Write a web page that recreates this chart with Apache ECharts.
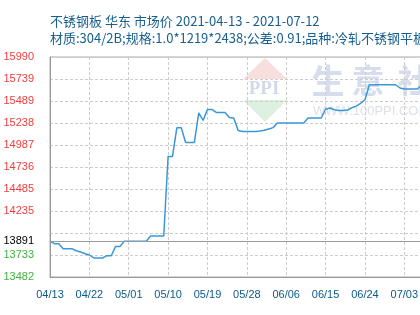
<!DOCTYPE html>
<html><head><meta charset="utf-8">
<script src="https://cdn.jsdelivr.net/npm/echarts@6/dist/echarts.min.js"></script>
<style>html,body{margin:0;padding:0;background:#fff}#c{width:420px;height:315px}</style>
</head><body><div id="c"></div>
<script>
const titleLine1 = '不锈钢板 华东 市场价 2021-04-13 - 2021-07-12';
const titleLine2 = '材质:304/2B;规格:1.0*1219*2438;公差:0.91;品种:冷轧不锈钢平板';
const startDate = [2021, 3, 13];
const dayCount = 91;
const prices = [
  13891,13862,13862,13805,13805,13805,13782,13767,13748,13733,
  13699,13699,13699,13725,13725,13831,13831,13891,13891,13891,
  13891,13891,13891,13949,13949,13949,13949,14857,14857,15185,
  15185,15016,15016,15016,15352,15267,15393,15393,15358,15358,
  15358,15301,15295,15153,15142,15142,15142,15142,15147,15155,
  15170,15185,15238,15238,15238,15238,15238,15238,15238,15295,
  15295,15295,15295,15395,15409,15389,15381,15381,15385,15412,
  15430,15462,15503,15674,15674,15674,15674,15674,15674,15674,
  15637,15625,15625,15625,15625,15674,15674,15674,15674,15674,
  15674
];
const yMin = 13482.2, yMax = 15990.2, yStep = 250.8;
const refPrice = 13891;
const hiddenTick = 13984;

const dates = [];
for (let i = 0; i < dayCount; i++) {
  const d = new Date(startDate[0], startDate[1], startDate[2] + i);
  dates.push(String(d.getMonth() + 1).padStart(2, '0') + '/' + String(d.getDate()).padStart(2, '0'));
}
const realOf = v => Math.round(Number(v) + yMin);

const chart = echarts.init(document.getElementById('c'), null, {renderer: 'canvas'});
chart.setOption({
  animation: false,
  backgroundColor: '#fff',
  title: {
    text: titleLine1 + '\n' + titleLine2,
    left: 50, top: 13, padding: 0,
    textStyle: {fontFamily: '"Noto Sans CJK SC"', fontSize: 13, fontWeight: 'normal', color: '#165f8f', lineHeight: 17}
  },
  grid: {left: 50, top: 57, width: 393.7, height: 220, show: true, borderColor: '#aaa', borderWidth: 1, containLabel: false, outerBoundsMode: 'none'},
  graphic: [
    {type: 'polygon', z: 0, shape: {points: [[265, 58], [243, 79], [287, 79]]}, style: {fill: '#f9dede'}},
    {type: 'polygon', z: 0, shape: {points: [[243, 100], [287, 100], [265, 122]]}, style: {fill: '#def1e0'}},
    {type: 'text', z: 0, x: 264, y: 89, style: {text: 'PPI', fill: '#d3d9ea', font: 'bold 19px "Liberation Serif"', align: 'center', verticalAlign: 'middle'}},
    {type: 'text', z: 0, x: 328, y: 80, style: {text: '生', fill: '#d8dded', font: 'bold 33px "Noto Sans CJK SC"', align: 'center', verticalAlign: 'middle'}},
    {type: 'text', z: 0, x: 368, y: 80, style: {text: '意', fill: '#d8dded', font: 'bold 33px "Noto Sans CJK SC"', align: 'center', verticalAlign: 'middle'}},
    {type: 'text', z: 0, x: 414, y: 80, style: {text: '社', fill: '#d8dded', font: 'bold 33px "Noto Sans CJK SC"', align: 'center', verticalAlign: 'middle'}},
    {type: 'text', z: 0, x: 313, y: 111, style: {text: 'WWW.100PPI.COM', fill: '#dcdfe8', font: '13px "Liberation Sans"', align: 'left', verticalAlign: 'middle'}}
  ],
  xAxis: {
    type: 'category', data: dates, boundaryGap: false,
    axisLine: {show: true, lineStyle: {color: '#999', width: 1}},
    axisTick: {show: false},
    axisLabel: {interval: 8, margin: 12, color: '#0b5a8a', fontSize: 11, fontFamily: '"Liberation Sans"'},
    splitLine: {show: true, interval: 8, lineStyle: {color: '#ccc', type: [3, 2], width: 1}}
  },
  yAxis: {
    type: 'value', min: 0, max: yMax - yMin, interval: yStep,
    axisLine: {show: true, lineStyle: {color: '#999', width: 1}},
    axisTick: {show: false},
    axisLabel: {
      margin: 16, fontSize: 11, fontFamily: '"Liberation Sans"',
      formatter: v => { const r = realOf(v); return r === hiddenTick ? '' : String(r); },
      color: v => realOf(v) > refPrice ? '#f03c3c' : '#3cb43c'
    },
    splitLine: {show: true, lineStyle: {color: '#ccc', type: [3, 2], width: 1}}
  },
  series: [{
    type: 'line', data: prices.map(v => v - yMin), showSymbol: false, symbol: 'none',
    lineStyle: {color: '#3a98d8', width: 1.5}, z: 3,
    markLine: {
      silent: true, symbol: 'none', animation: false,
      lineStyle: {color: '#999', type: 'solid', width: 1},
      label: {show: true, position: 'start', distance: 16, formatter: String(refPrice), color: '#000', fontSize: 11, fontFamily: '"Liberation Sans"'},
      data: [{yAxis: refPrice - yMin}]
    }
  }]
});
</script></body></html>
